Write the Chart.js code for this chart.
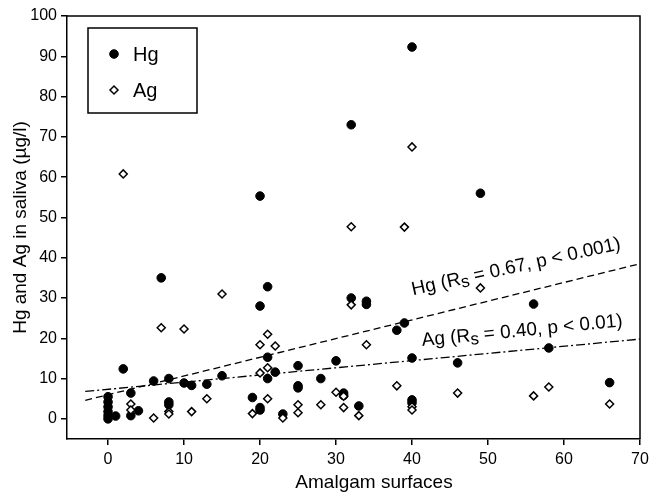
<!DOCTYPE html>
<html>
<head>
<meta charset="utf-8">
<script src="https://cdn.jsdelivr.net/npm/chart.js@4.4.1/dist/chart.umd.min.js"></script>
<style>
  html, body { margin: 0; padding: 0; background: #fff; }
</style>
</head>
<body>
<canvas id="chart" width="661" height="495"></canvas>
<script>
const FONT = "'Liberation Sans', Arial, sans-serif";

// Hg in saliva (filled circles)
const hgX = [40, 32, 20, 49, 7, 21, 20, 32, 34, 34, 56, 39, 38, 58, 21, 40, 30, 46, 25, 2,
             22, 15, 8, 21, 28, 6, 10, 66, 13, 11, 25, 25, 3, 31, 31, 0, 19, 40, 0, 8,
             8, 40, 33, 0, 20, 20, 4, 0, 1, 3, 23, 0, 0];
const hgY = [92.3, 73, 55.3, 56, 35, 32.8, 28, 30, 29.2, 28.4, 28.5, 23.8, 22, 17.6, 15.3, 15.1, 14.4, 13.9, 13.2, 12.4,
             11.6, 10.7, 10, 10, 10, 9.4, 8.9, 9, 8.6, 8.3, 8.2, 7.7, 6.4, 6.4, 5.8, 5.5, 5.3, 4.7, 4.2, 4.2,
             3.5, 4.0, 3.2, 3, 2.8, 2.2, 2, 1.8, 0.7, 0.8, 1.2, 0.8, 0];

// Ag in saliva (open diamonds)
const agX = [40, 2, 32, 39, 49, 15, 32, 7, 10, 21, 20, 22, 34, 21, 20, 38, 58, 30, 46, 56,
             31, 13, 21, 3, 66, 25, 28, 31, 40, 40, 3, 8, 8, 11, 25, 19, 33, 6, 23];
const agY = [67.5, 60.8, 47.7, 47.6, 32.5, 31, 28.3, 22.6, 22.3, 21, 18.4, 18.1, 18.4, 12.7, 11.4, 8.2, 7.9, 6.6, 6.4, 5.7,
             5.6, 5, 5, 3.7, 3.7, 3.5, 3.5, 2.8, 3, 2.2, 2.2, 1.8, 1.2, 1.8, 1.5, 1.3, 0.8, 0.2, 0.2];

// regression lines, end points
const hgFitX = [-3, 70];
const hgFitY = [4.6, 38.5];
const agFitX = [-3, 70];
const agFitY = [6.8, 19.8];

const xTicks = [0, 10, 20, 30, 40, 50, 60, 70];
const yTicks = [0, 10, 20, 30, 40, 50, 60, 70, 80, 90, 100];

const fitLabels = [
    { name: 'Hg', rest: ' = 0.67, p < 0.001)', x: 53.7, y: 37.7, angle: -12.5 },
    { name: 'Ag', rest: ' = 0.40, p < 0.01)', x: 54.5, y: 21.8, angle: -5.6 },
];

const pts = (xs, ys) => xs.map((x, i) => ({ x, y: ys[i] }));

function drawFitLabel(ctx, cx, cy, angle, lbl) {
    const big = `19px ${FONT}`;
    const small = `17px ${FONT}`;
    const parts = [
        { t: lbl.name + ' (R', f: big, dy: 0 },
        { t: 's', f: small, dy: 4 },
        { t: lbl.rest, f: big, dy: 0 },
    ];
    ctx.save();
    ctx.translate(cx, cy);
    ctx.rotate(angle * Math.PI / 180);
    let w = 0;
    for (const p of parts) { ctx.font = p.f; p.w = ctx.measureText(p.t).width; w += p.w; }
    let xx = -w / 2;
    ctx.textBaseline = 'middle';
    ctx.textAlign = 'left';
    ctx.fillStyle = '#000';
    for (const p of parts) { ctx.font = p.f; ctx.fillText(p.t, xx, p.dy); xx += p.w; }
    ctx.restore();
}

const frame = {
    id: 'frame',
    afterDatasetsDraw(chart) {
        const { ctx, chartArea: a, scales: { x, y } } = chart;
        ctx.save();
        ctx.strokeStyle = '#000';
        ctx.lineWidth = 1.5;
        ctx.beginPath();
        ctx.moveTo(a.left, a.top);
        ctx.lineTo(a.right, a.top);
        ctx.lineTo(a.right, a.bottom);
        ctx.stroke();

        // legend box
        const bx = a.left + 21, by = a.top + 12;
        ctx.lineWidth = 1.5;
        ctx.strokeRect(bx, by, 109, 85);
        const ds = chart.data.datasets;
        [[ds[0], 26], [ds[1], 62]].forEach(([d, dy]) => {
            ctx.fillStyle = d.backgroundColor;
            ctx.strokeStyle = d.borderColor;
            ctx.lineWidth = d.borderWidth;
            Chart.helpers.drawPoint(ctx, { pointStyle: d.pointStyle, radius: d.pointRadius, rotation: 0, borderWidth: d.borderWidth }, bx + 26, by + dy);
            ctx.fillStyle = '#000';
            ctx.font = `20px ${FONT}`;
            ctx.textBaseline = 'middle';
            ctx.fillText(d.label, bx + 45, by + dy + 1);
        });

        fitLabels.forEach(l => drawFitLabel(ctx, x.getPixelForValue(l.x), y.getPixelForValue(l.y), l.angle, l));

        // x axis title, centred on the 0-70 range
        ctx.fillStyle = '#000';
        ctx.font = `19px ${FONT}`;
        ctx.textAlign = 'center';
        ctx.textBaseline = 'middle';
        ctx.fillText('Amalgam surfaces', x.getPixelForValue(35), 483);
        ctx.restore();
    }
};

const tickFont = { family: FONT, size: 16 };

new Chart(document.getElementById('chart'), {
    type: 'scatter',
    data: {
        datasets: [
            { label: 'Hg', data: pts(hgX, hgY), pointStyle: 'circle', pointRadius: 4.3,
              backgroundColor: '#000', borderColor: '#000', borderWidth: 1, order: 2 },
            { label: 'Ag', data: pts(agX, agY), pointStyle: 'rectRot', pointRadius: 4,
              backgroundColor: '#fff', borderColor: '#000', borderWidth: 1.5, order: 1 },
            { type: 'line', label: 'Hg fit', data: pts(hgFitX, hgFitY), borderColor: '#000',
              borderWidth: 1.3, borderDash: [7, 4], pointRadius: 0, fill: false, order: 3 },
            { type: 'line', label: 'Ag fit', data: pts(agFitX, agFitY), borderColor: '#000',
              borderWidth: 1.3, borderDash: [9, 3, 2, 3], pointRadius: 0, fill: false, order: 3 },
        ],
    },
    options: {
        responsive: false,
        animation: false,
        layout: { padding: { top: 16, right: 21, left: 0, bottom: 0 } },
        plugins: { legend: { display: false }, tooltip: { enabled: false } },
        scales: {
            x: {
                type: 'linear', min: -5.4, max: 70,
                afterBuildTicks: s => { s.ticks = xTicks.map(v => ({ value: v })); },
                afterFit: s => { s.height = 56; },
                grid: { display: true, drawOnChartArea: false, tickLength: 6, color: '#000', lineWidth: 1.5 },
                border: { display: true, color: '#000', width: 1.5 },
                ticks: { color: '#000', font: tickFont, padding: 5, maxRotation: 0 },
            },
            y: {
                type: 'linear', min: -5, max: 100,
                afterBuildTicks: s => { s.ticks = yTicks.map(v => ({ value: v })); },
                afterFit: s => { s.width = 67; },
                grid: { display: true, drawOnChartArea: false, tickLength: 6, color: '#000', lineWidth: 1.5 },
                border: { display: true, color: '#000', width: 1.5 },
                ticks: { color: '#000', font: tickFont, padding: 4 },
                title: { display: true, text: 'Hg and Ag in saliva (µg/l)', color: '#000',
                         font: { family: FONT, size: 19 }, padding: { top: 9, bottom: 0 } },
            },
        },
    },
    plugins: [frame],
});
</script>
</body>
</html>
